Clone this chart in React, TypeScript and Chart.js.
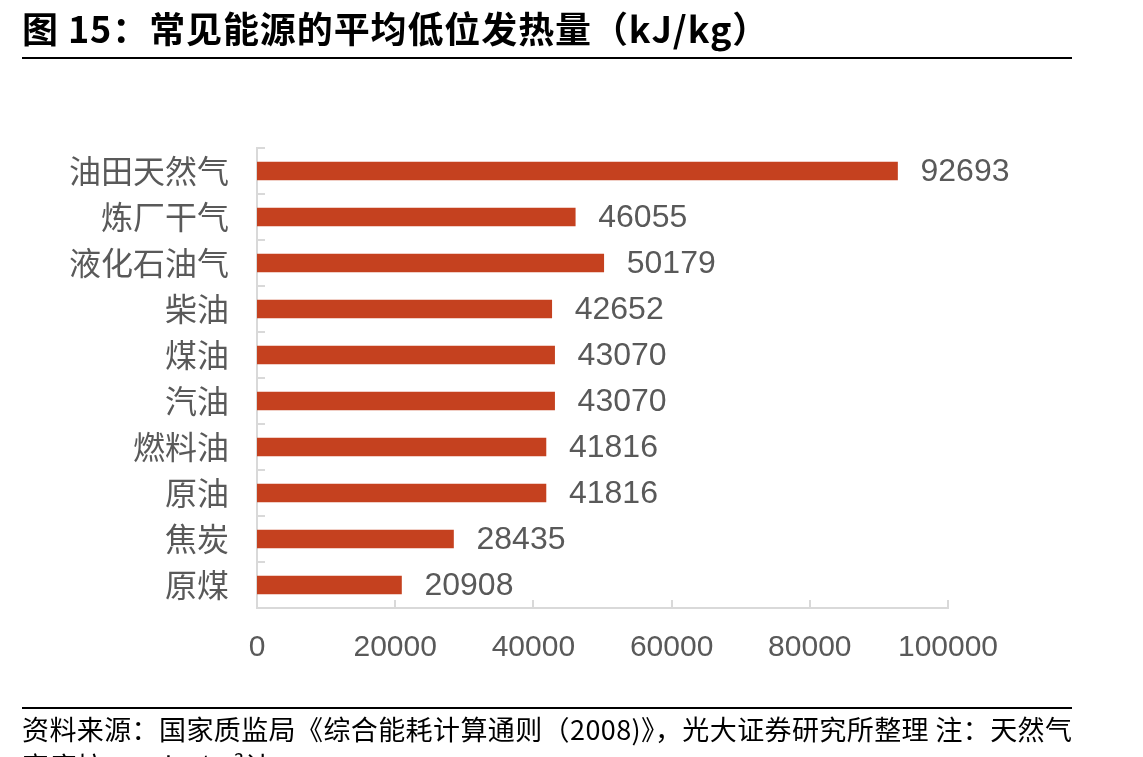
import React, { useEffect, useRef } from "react";
import { Chart, registerables } from "chart.js";

Chart.register(...registerables);

const categories = ["油田天然气", "炼厂干气", "液化石油气", "柴油", "煤油", "汽油", "燃料油", "原油", "焦炭", "原煤"];
const heatValues = [92693, 46055, 50179, 42652, 43070, 43070, 41816, 41816, 28435, 20908];
const xTickValues = [0, 20000, 40000, 60000, 80000, 100000];

const titleText = "图 15：常见能源的平均低位发热量（kJ/kg）";
const sourceLine1 = "资料来源：国家质监局《综合能耗计算通则（2008)》，光大证券研究所整理  注：天然气";
const sourceLine2 = "密度按 0.48kg/m³计";

const BAR_COLOR = "#C5411F";
const AXIS_COLOR = "#D9D9D9";
const TEXT_GRAY = "#595959";
const NUM_FONT = '"Liberation Sans", Arial, "Noto Sans CJK SC", sans-serif';
const CJK_FONT = '"Noto Sans CJK SC", "Liberation Sans", sans-serif';

const innerTicksPlugin = {
  id: "innerTicks",
  afterDraw(chart: any) {
    const { ctx, chartArea, scales } = chart;
    const xs = scales.x;
    const ys = scales.y;
    ctx.save();
    ctx.strokeStyle = AXIS_COLOR;
    ctx.lineWidth = 2;
    for (let i = 0; i <= categories.length; i++) {
      const py = Math.round(ys.getPixelForValue(i - 0.5));
      ctx.beginPath();
      ctx.moveTo(chartArea.left, py);
      ctx.lineTo(chartArea.left + 8, py);
      ctx.stroke();
    }
    xTickValues.forEach((v) => {
      const px = Math.round(xs.getPixelForValue(v));
      ctx.beginPath();
      ctx.moveTo(px, chartArea.bottom);
      ctx.lineTo(px, chartArea.bottom - 8);
      ctx.stroke();
    });
    ctx.restore();
  },
};

const valueLabelPlugin = {
  id: "valueLabels",
  afterDatasetsDraw(chart: any) {
    const { ctx } = chart;
    const meta = chart.getDatasetMeta(0);
    ctx.save();
    ctx.font = `32px ${NUM_FONT}`;
    ctx.fillStyle = TEXT_GRAY;
    ctx.textAlign = "left";
    ctx.textBaseline = "middle";
    meta.data.forEach((bar: any, i: number) => {
      ctx.fillText(String(heatValues[i]), bar.x + 23, bar.y + 1);
    });
    ctx.restore();
  },
};

export default function App() {
  const canvasRef = useRef<HTMLCanvasElement | null>(null);

  useEffect(() => {
    if (!canvasRef.current) return;
    const chart = new Chart(canvasRef.current, {
      type: "bar",
      data: {
        labels: categories,
        datasets: [
          {
            data: heatValues,
            backgroundColor: BAR_COLOR,
            borderWidth: 0,
            barThickness: 18,
          },
        ],
      },
      options: {
        indexAxis: "y",
        responsive: false,
        animation: false,
        devicePixelRatio: 1,
        layout: { padding: { left: 0, right: 195, top: 148, bottom: 89 } },
        plugins: {
          legend: { display: false },
          tooltip: { enabled: false },
          title: { display: false },
        },
        scales: {
          x: {
            type: "linear",
            min: 0,
            max: 100000,
            afterFit: (scale: any) => {
              scale.height = 60;
            },
            afterBuildTicks: (scale: any) => {
              scale.ticks = xTickValues.map((v) => ({ value: v }));
            },
            grid: { display: false, drawTicks: false },
            border: { display: true, color: AXIS_COLOR, width: 2 },
            ticks: {
              padding: 22,
              color: TEXT_GRAY,
              font: { family: NUM_FONT, size: 30 },
              maxRotation: 0,
              autoSkip: false,
              callback: (v: any) => String(v),
            },
          },
          y: {
            type: "category",
            afterFit: (scale: any) => {
              scale.width = 257;
            },
            grid: { display: false, drawTicks: false },
            border: { display: true, color: AXIS_COLOR, width: 2 },
            ticks: {
              padding: 28,
              color: TEXT_GRAY,
              font: { family: CJK_FONT, size: 32 },
              autoSkip: false,
            },
          },
        },
      },
      plugins: [innerTicksPlugin, valueLabelPlugin],
    });
    return () => chart.destroy();
  }, []);

  return (
    <div
      style={{
        position: "absolute",
        left: 0,
        top: 0,
        width: 1143,
        height: 757,
        overflow: "hidden",
        background: "#fff",
      }}
    >
      <canvas
        ref={canvasRef}
        width={1143}
        height={757}
        style={{ position: "absolute", left: 0, top: 0, width: 1143, height: 757 }}
      />
      <div
        style={{
          position: "absolute",
          left: 22,
          top: 9,
          fontFamily: CJK_FONT,
          fontWeight: 700,
          fontSize: 36,
          lineHeight: "36px",
          letterSpacing: "0.9px",
          color: "#000",
          whiteSpace: "nowrap",
        }}
      >
        {titleText}
      </div>
      <div style={{ position: "absolute", left: 22, top: 57, width: 1050, height: 2, background: "#000" }} />
      <div style={{ position: "absolute", left: 22, top: 707, width: 1050, height: 2, background: "#000" }} />
      <div
        style={{
          position: "absolute",
          left: 22,
          top: 710,
          fontFamily: CJK_FONT,
          fontSize: 27,
          lineHeight: "37px",
          letterSpacing: "0.4px",
          color: "#000",
          whiteSpace: "nowrap",
        }}
      >
        {sourceLine1}
        <br />
        {sourceLine2}
      </div>
    </div>
  );
}
